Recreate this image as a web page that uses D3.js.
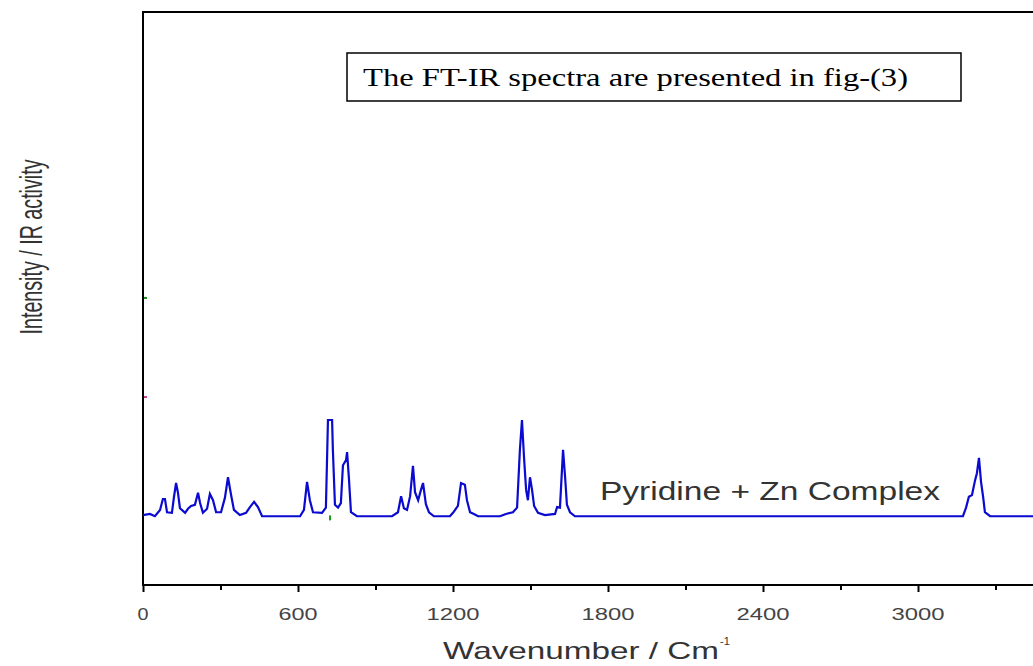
<!DOCTYPE html>
<html>
<head>
<meta charset="utf-8">
<script src="https://cdn.jsdelivr.net/npm/d3@7"></script>
<style>
  body { margin: 0; background: #fff; }
  svg { display: block; }
</style>
</head>
<body>
<svg id="chart"></svg>
<script>
// spectrum points (wavenumber cm-1, arbitrary intensity)
var wavenumber = [0,27,46,66,77,85,93,112,120,128,135,143,163,174,186,201,213,221,232,248,
    259,271,283,302,317,329,341,352,375,399,414,430,445,461,608,623,635,646,658,693,
    708,716,732,735,743,755,766,774,786,790,797,805,828,964,987,999,1010,1022,1034,1045,
    1053,1065,1076,1084,1095,1107,1126,1188,1200,1219,1231,1246,1254,1266,1281,1297,1382,1405,1432,1448,
    1459,1467,1475,1483,1490,1498,1506,1514,1529,1556,1595,1603,1614,1626,1634,1641,1653,1672,3174,3186,
    3197,3209,3221,3228,3236,3244,3252,3259,3279,3600];
var intensity = [12.2,12.4,12.0,13.1,15.0,15.0,12.7,12.6,15.4,17.8,16.2,13.4,12.6,13.3,13.8,14.0,16.1,14.3,12.6,13.3,
    15.9,14.8,12.7,12.7,15.2,18.8,15.7,13.1,12.2,12.6,13.6,14.5,13.6,12.0,12.0,13.1,18.0,14.8,12.7,12.6,
    13.5,28.8,28.8,23.6,14.0,13.5,14.3,20.9,21.8,23.2,18.7,12.7,12.0,12.0,12.7,15.5,13.4,13.1,15.5,20.8,
    16.2,14.8,16.6,17.8,14.1,12.7,12.0,12.0,12.6,13.8,17.8,17.5,14.8,12.7,12.4,12.0,12.0,12.4,12.7,13.5,
    23.6,28.8,22.2,16.6,14.8,18.8,16.6,13.8,12.6,12.2,12.4,13.6,13.5,23.6,18.8,14.0,12.7,12.0,12.0,13.5,
    15.4,15.7,18.3,19.5,22.2,18.0,15.4,12.7,12.0,12.0];

var majorTicks = [0, 600, 1200, 1800, 2400, 3000];
var minorTicks = [300, 900, 1500, 2100, 2700, 3300];

// stray coloured marks visible in the original
var strayW = [0, 0, 724];
var strayI = [50.1, 32.8, 11.8];
var strayColor = ['#1a8a1a', '#c0408a', '#1a9a1a'];

var seriesLabel = 'Pyridine + Zn Complex';
var boxText = 'The FT-IR spectra are presented in fig-(3)';

var width = 1033;
var height = 666;

var svg = d3.select('#chart')
    .attr('width', width)
    .attr('height', height);

var x = d3.scaleLinear().domain([0, 3600]).range([143, 1073]);
var y = d3.scaleLinear().domain([0, 100]).range([585, 12]);

// frame (right side runs past the edge of the picture)
var frame = svg.append('g')
    .attr('fill', 'none')
    .attr('stroke', '#000')
    .attr('stroke-width', 2);
frame.append('line')
    .attr('x1', x(0)).attr('x2', x(0))
    .attr('y1', y(100)).attr('y2', y(0));
frame.append('line')
    .attr('x1', x(0) - 1).attr('x2', width)
    .attr('y1', y(100)).attr('y2', y(100));

// x axis: labelled major ticks plus short minor ticks
var axisG = svg.append('g')
    .attr('transform', 'translate(0,' + y(0) + ')')
    .call(d3.axisBottom(x).tickValues(majorTicks).tickSize(7).tickSizeOuter(0).tickFormat(''));
axisG.select('.domain').attr('stroke-width', 2).attr('d', 'M' + (x(0) - 1) + ',0H' + width);
axisG.selectAll('.tick line').attr('stroke-width', 2);

svg.append('g')
    .attr('transform', 'translate(0,' + y(0) + ')')
    .call(d3.axisBottom(x).tickValues(minorTicks).tickSize(5).tickFormat(''))
    .call(function(g) { g.select('.domain').remove(); })
    .selectAll('.tick line').attr('stroke-width', 2);

svg.append('g')
    .selectAll('text')
    .data(majorTicks)
    .enter().append('text')
    .attr('x', function(d) { return x(d); })
    .attr('y', 620)
    .attr('text-anchor', 'middle')
    .attr('font-family', 'Liberation Sans, Arial, sans-serif')
    .attr('font-size', 17)
    .attr('fill', '#444')
    .attr('textLength', function(d) { return String(d).length * 14 - 3; })
    .attr('lengthAdjust', 'spacingAndGlyphs')
    .text(function(d) { return d; });

// axis titles
svg.append('text')
    .attr('x', 443)
    .attr('y', 659)
    .attr('font-family', 'Liberation Sans, Arial, sans-serif')
    .attr('font-size', 24)
    .attr('fill', '#333')
    .attr('textLength', 276)
    .attr('lengthAdjust', 'spacingAndGlyphs')
    .text('Wavenumber / Cm');
svg.append('text')
    .attr('x', 720)
    .attr('y', 645)
    .attr('font-family', 'Liberation Sans, Arial, sans-serif')
    .attr('font-size', 11)
    .attr('fill', '#333')
    .text('-1');

svg.append('text')
    .attr('transform', 'translate(42,247) rotate(-90)')
    .attr('text-anchor', 'middle')
    .attr('font-family', 'Liberation Sans, Arial, sans-serif')
    .attr('font-size', 32)
    .attr('fill', '#333')
    .attr('textLength', 175)
    .attr('lengthAdjust', 'spacingAndGlyphs')
    .text('Intensity / IR activity');

// spectrum
var points = wavenumber.map(function(w, i) { return [w, intensity[i]]; });
var line = d3.line()
    .x(function(d) { return x(d[0]); })
    .y(function(d) { return y(d[1]); });

svg.append('path')
    .datum(points)
    .attr('d', line)
    .attr('fill', 'none')
    .attr('stroke', '#0a0ad0')
    .attr('stroke-width', 2.2)
    .attr('stroke-linejoin', 'miter');

svg.append('g')
    .selectAll('line')
    .data(strayW)
    .enter().append('line')
    .attr('x1', function(d, i) { return i < 2 ? x(d) + 1 : x(d); })
    .attr('x2', function(d, i) { return i < 2 ? x(d) + 4 : x(d); })
    .attr('y1', function(d, i) { return i < 2 ? y(strayI[i]) : y(strayI[i]) - 2; })
    .attr('y2', function(d, i) { return i < 2 ? y(strayI[i]) : y(strayI[i]) + 3; })
    .attr('stroke', function(d, i) { return strayColor[i]; })
    .attr('stroke-width', 2);

svg.append('text')
    .attr('x', 600)
    .attr('y', 500)
    .attr('font-family', 'Liberation Sans, Arial, sans-serif')
    .attr('font-size', 25)
    .attr('fill', '#333')
    .attr('textLength', 340)
    .attr('lengthAdjust', 'spacingAndGlyphs')
    .text(seriesLabel);

// note box
svg.append('rect')
    .attr('x', 347)
    .attr('y', 53)
    .attr('width', 614)
    .attr('height', 48)
    .attr('fill', '#fff')
    .attr('stroke', '#000')
    .attr('stroke-width', 1.5);
svg.append('text')
    .attr('x', 363)
    .attr('y', 86)
    .attr('font-family', 'Liberation Serif, Times New Roman, serif')
    .attr('font-size', 26)
    .attr('fill', '#000')
    .attr('textLength', 545)
    .attr('lengthAdjust', 'spacingAndGlyphs')
    .text(boxText);
</script>
</body>
</html>
